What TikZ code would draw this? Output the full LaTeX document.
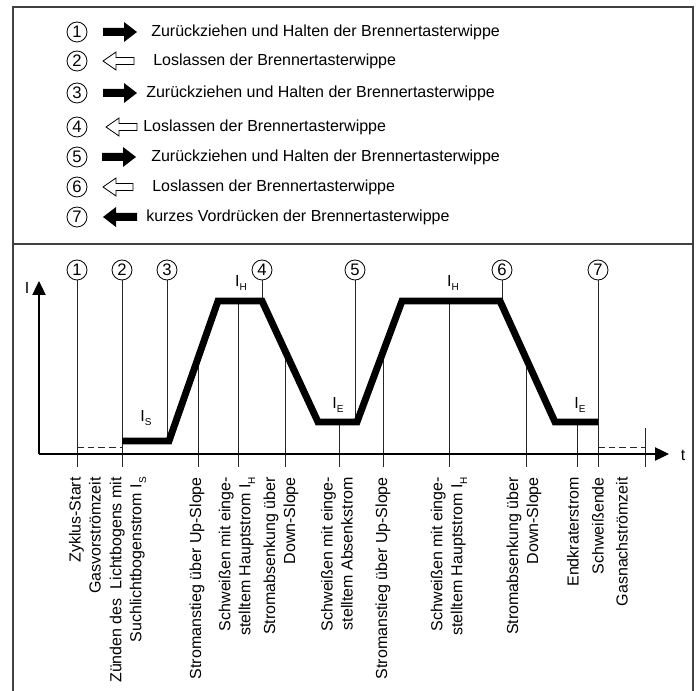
\documentclass[tikz,border=0pt]{standalone}
\usepackage{fontspec}
\setmainfont{Liberation Sans}
\usetikzlibrary{arrows.meta,calc}

% small lowered index letter (I_S, I_H, I_E)
\newcommand{\idx}[1]{\raisebox{-0.55ex}{\fontsize{7.5}{8}\selectfont #1}}

\tikzset{
  frameline/.style={draw=black!75, line width=1.5pt},
  num/.style={circle, draw, line width=0.6pt, minimum size=15pt, inner sep=0pt,
    font=\fontsize{12.5}{12.5}\selectfont},
  legtext/.style={anchor=west, inner sep=0pt, font=\fontsize{12}{14}\selectfont},
  axisline/.style={line width=0.9pt, -{Triangle[length=10.5pt,width=10pt]}},
  guide/.style={line width=0.6pt, draw=black!85},
  dashguide/.style={guide, dash pattern=on 5pt off 3pt},
  weld/.style={line width=5.2pt, line join=miter},
  rotlabel/.style={rotate=90, anchor=east, align=right, inner sep=0pt,
    font=\fontsize{12}{15}\selectfont},
  lvl/.style={inner sep=0pt, font=\fontsize{12}{12}\selectfont},
  pics/fwdarrow/.style={code={
    \fill (0,-4) -- (21,-4) -- (21,-10) -- (34,0) -- (21,10) -- (21,4) -- (0,4) -- cycle;}},
  pics/backarrow/.style={code={
    \fill (0,0) -- (13,-10) -- (13,-4) -- (34,-4) -- (34,4) -- (13,4) -- (13,10) -- cycle;}},
  pics/relarrow/.style={code={
    \draw[fill=white, line width=0.6pt] (0,0) -- (13,-9) -- (13,-3.5) -- (#1,-3.5)
      -- (#1,3.5) -- (13,3.5) -- (13,9) -- cycle;}},
}

\begin{document}
\begin{tikzpicture}[x=0.75pt, y=-0.75pt]
\useasboundingbox (0,0) rectangle (700,691);

% outer frame and divider
\draw[frameline] (13,691) -- (13,7) -- (693,7) -- (693,691);
\draw[frameline] (13,244) -- (693,244);

% ---------- legend ----------
\node[num] (l1) at (77,32) {1};
\node[num] (l2) at (77,61) {2};
\node[num] (l3) at (77,93) {3};
\node[num] (l4) at (77,127) {4};
\node[num] (l5) at (77,157) {5};
\node[num] (l6) at (77,187) {6};
\node[num] (l7) at (77,217) {7};

\pic at (103,32) {fwdarrow};
\pic at (103,61) {relarrow=31};
\pic at (103,93) {fwdarrow};
\pic at (106,127) {relarrow=31};
\pic at (102,157) {fwdarrow};
\pic at (103,187) {relarrow=30};
\pic at (103,217) {backarrow};

\node[legtext] (t1) at (151,32) {Zurückziehen und Halten der Brennertasterwippe};
\node[legtext] (t2) at (153,61) {Loslassen der Brennertasterwippe};
\node[legtext] (t3) at (146,93) {Zurückziehen und Halten der Brennertasterwippe};
\node[legtext] (t4) at (143,127) {Loslassen der Brennertasterwippe};
\node[legtext] (t5) at (151,157) {Zurückziehen und Halten der Brennertasterwippe};
\node[legtext] (t6) at (152,187) {Loslassen der Brennertasterwippe};
\node[legtext] (t7) at (146,217) {kurzes Vordrücken der Brennertasterwippe};

% ---------- diagram ----------
\coordinate (origin) at (39,454);
\coordinate (ytop) at (39,281);
\coordinate (xend) at (669,454);
\coordinate (base) at (0,467);

\node[lvl] (ilab) at (27,288) {I};
\node[lvl] (tlab) at (683,455) {t};

% current profile corners
\coordinate (p0) at (122,441);
\coordinate (p1) at (169,441);
\coordinate (p2) at (218,301);
\coordinate (p3) at (262,301);
\coordinate (p4) at (318,422);
\coordinate (p5) at (357,422);
\coordinate (p6) at (402,301);
\coordinate (p7) at (500,301);
\coordinate (p8) at (555,422);
\coordinate (p9) at (598,422);

% phase markers
\node[num] (c1) at (77,270) {1};
\node[num] (c2) at (122,270) {2};
\node[num] (c3) at (167,270) {3};
\node[num] (c4) at (262,270) {4};
\node[num] (c5) at (355,270) {5};
\node[num] (c6) at (502,270) {6};
\node[num] (c7) at (598,270) {7};

\draw[guide] (c1.south) -- (c1.south |- base);
\draw[guide] (c2.south) -- (c2.south |- base);
\draw[guide] (c3.south) -- (c3.south |- p1);
\draw[guide] (c4.south) -- (c4.south |- p3);
\draw[guide] (c5.south) -- (c5.south |- p5);
\draw[guide] (c6.south) -- (c6.south |- p7);
\draw[guide] (c7.south) -- (c7.south |- base);

% guides from the profile down to the labels
\coordinate (g1) at ($(p1)!0.592!(p2)$);
\coordinate (g2) at (238,301);
\coordinate (g3) at ($(p3)!0.411!(p4)$);
\coordinate (g4) at (339,422);
\coordinate (g5) at ($(p5)!0.578!(p6)$);
\coordinate (g6) at (449,301);
\coordinate (g7) at ($(p7)!0.473!(p8)$);
\coordinate (g8) at (577,422);
\foreach \g in {g1,g2,g3,g4,g5,g6,g7,g8}
  \draw[guide] (\g) -- (\g |- base);

% end of gas post-flow
\coordinate (em1) at (645,428);
\coordinate (em2) at (645,467);
\draw[guide] (em1) -- (em2);

% gas pre-flow and post-flow
\draw[dashguide] (77,447) -- (122,447);
\draw[dashguide] (598,447) -- (645,447);

% axes
\draw[axisline] (origin) -- (ytop);
\draw[axisline] (origin) -- (xend);

% welding current
\draw[weld] (p0) -- (p1) -- (p2) -- (p3) -- (p4) -- (p5) -- (p6) -- (p7) -- (p8) -- (p9);

\node[lvl] (is) at (146,418) {I\idx{S}};
\node[lvl] (ih1) at (241,283) {I\idx{H}};
\node[lvl] (ie1) at (338,405) {I\idx{E}};
\node[lvl] (ih2) at (453,283) {I\idx{H}};
\node[lvl] (ie2) at (580,405) {I\idx{E}};

% phase descriptions
\node[rotlabel] (d1) at (85,477) {Zyklus-Start\\Gasvorströmzeit};
\node[rotlabel] (d2) at (128,477) {Zünden des\ \ Lichtbogens mit\\Suchlichtbogenstrom I\idx{S}};
\node[rotlabel] (d3) at (197,477) {Stromanstieg über Up-Slope};
\node[rotlabel] (d4) at (237,477) {Schweißen mit einge-\\stelltem Hauptstrom I\idx{H}};
\node[rotlabel] (d5) at (281,477) {Stromabsenkung über\\Down-Slope};
\node[rotlabel] (d6) at (337,477) {Schweißen mit einge-\\stelltem Absenkstrom};
\node[rotlabel] (d7) at (383,477) {Stromanstieg über Up-Slope};
\node[rotlabel] (d8) at (449,477) {Schweißen mit einge-\\stelltem Hauptstrom I\idx{H}};
\node[rotlabel] (d9) at (524,477) {Stromabsenkung über\\Down-Slope};
\node[rotlabel] (d10) at (573,477) {Endkraterstrom};
\node[rotlabel] (d11) at (598,477) {Schweißende};
\node[rotlabel] (d12) at (622,477) {Gasnachströmzeit};
\end{tikzpicture}
\end{document}
